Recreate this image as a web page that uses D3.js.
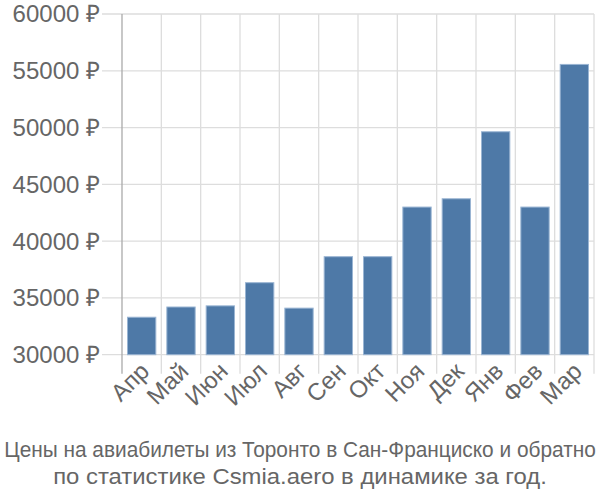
<!DOCTYPE html>
<html><head><meta charset="utf-8">
<script src="https://cdn.jsdelivr.net/npm/d3@7"></script>
<style>body{margin:0;background:#fff;} svg{display:block;font-family:"Liberation Sans",Arial,sans-serif;}</style>
</head><body><svg id="c" width="600" height="500"></svg>
<script>
const months = ["Апр","Май","Июн","Июл","Авг","Сен","Окт","Ноя","Дек","Янв","Фев","Мар"];
const prices = [33300,34200,34300,36340,34100,38630,38630,43000,43730,49630,43000,55560];
const yTicks = [30000,35000,40000,45000,50000,55000,60000];
const titleLines = ["Цены на авиабилеты из Торонто в Сан-Франциско и обратно","по статистике Csmia.aero в динамике за год."];
const titleWidths = [592, 494];

const svg = d3.select("#c");
const L = 122, R = 594, T = 14, B = 354.7;
const x = d3.scaleBand().domain(months).range([L, R]).paddingInner(0.28).paddingOuter(0.14);
const xg = d3.scaleBand().domain(months).range([L, R]);
const y = d3.scaleLinear().domain([30000, 60000]).range([B, T]);

// horizontal grid
svg.append("g").selectAll("line").data(yTicks).join("line")
  .attr("x1", 102).attr("x2", R).attr("y1", d=>y(d)).attr("y2", d=>y(d))
  .attr("stroke", "#dddddd").attr("stroke-width", 1.3);
// vertical grid
const vx = months.map(m=>xg(m)).slice(1).concat([R]);
svg.append("g").selectAll("line").data(vx).join("line")
  .attr("x1", d=>d).attr("x2", d=>d).attr("y1", T).attr("y2", B+19)
  .attr("stroke", "#dddddd").attr("stroke-width", 1.3);
// left axis line
svg.append("line").attr("x1", L).attr("x2", L).attr("y1", T).attr("y2", B+19)
  .attr("stroke", "#aaaaaa").attr("stroke-width", 1.3);

// bars
svg.append("g").selectAll("rect").data(prices).join("rect")
  .attr("x", (d,i)=>x(months[i])).attr("width", x.bandwidth())
  .attr("y", d=>y(d)).attr("height", d=>B-y(d))
  .attr("fill", "#4e79a7").attr("stroke", "#9ab5d3").attr("stroke-width", 1);

// y labels
svg.append("g").selectAll("text").data(yTicks).join("text")
  .attr("x", 100).attr("y", d=>y(d)).attr("dy", "0.35em")
  .attr("text-anchor", "end").attr("font-size", 24).attr("fill", "#666")
  .text(d=>d + " ₽");

// x labels
svg.append("g").selectAll("text").data(months).join("text")
  .attr("transform", m=>`translate(${xg(m)+xg.bandwidth()/2+9},${B+18}) rotate(-45)`)
  .attr("text-anchor", "end").attr("font-size", 24).attr("fill", "#666")
  .text(m=>m);

// title (horizontally condensed to match reference widths)
svg.append("g").selectAll("text").data(titleLines).join("text")
  .attr("x", 0).attr("y", 0)
  .attr("text-anchor", "middle").attr("font-size", 22.5).attr("fill", "#666")
  .text(d=>d)
  .attr("transform", function(d,i){
    const w = this.getComputedTextLength();
    const s = titleWidths[i] / w;
    return `translate(300,${456.5 + i*27}) scale(${s},1)`;
  });
</script></body></html>
